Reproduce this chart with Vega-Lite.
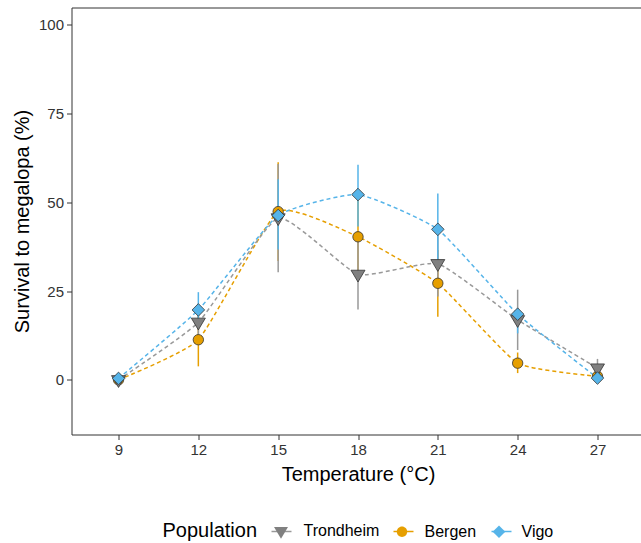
{
  "$schema": "https://vega.github.io/schema/vega-lite/v6.json",
  "width": 573,
  "height": 427,
  "autosize": "none",
  "padding": {"left": 71.5, "top": 7.5, "right": 0, "bottom": 108.5},
  "background": "white",
  "config": {
    "view": {"stroke": "#333333", "strokeWidth": 1},
    "axis": {
      "domain": false, "grid": false,
      "tickColor": "#333333", "tickSize": 5, "tickWidth": 1,
      "labelFont": "Liberation Sans", "labelFontSize": 15, "labelColor": "#333333",
      "titleFont": "Liberation Sans", "titleFontSize": 20, "titleFontWeight": "normal", "titleColor": "#000000"
    },
    "legend": {
      "titleFont": "Liberation Sans", "titleFontSize": 20, "titleFontWeight": "normal", "titleColor": "#000000",
      "labelFont": "Liberation Sans", "labelFontSize": 16, "labelColor": "#000000"
    }
  },
  "data": {
    "values": [
      {"Population": "Bergen", "Temp": 9, "Survival": 0, "lo": 0, "hi": 0},
      {"Population": "Bergen", "Temp": 12, "Survival": 11.3, "lo": 3.8, "hi": 18.8},
      {"Population": "Bergen", "Temp": 15, "Survival": 47.4, "lo": 33.5, "hi": 61.3},
      {"Population": "Bergen", "Temp": 18, "Survival": 40.3, "lo": 30.0, "hi": 50.6},
      {"Population": "Bergen", "Temp": 21, "Survival": 27.2, "lo": 17.8, "hi": 36.6},
      {"Population": "Bergen", "Temp": 24, "Survival": 4.7, "lo": 1.9, "hi": 7.7},
      {"Population": "Bergen", "Temp": 27, "Survival": 1.0, "lo": 1.0, "hi": 1.0},
      {"Population": "Trondheim", "Temp": 9, "Survival": 0, "lo": 0, "hi": 0},
      {"Population": "Trondheim", "Temp": 12, "Survival": 16.2, "lo": 12.2, "hi": 20.2},
      {"Population": "Trondheim", "Temp": 15, "Survival": 45.6, "lo": 30.3, "hi": 60.8},
      {"Population": "Trondheim", "Temp": 18, "Survival": 29.7, "lo": 19.8, "hi": 39.6},
      {"Population": "Trondheim", "Temp": 21, "Survival": 32.7, "lo": 23.5, "hi": 41.9},
      {"Population": "Trondheim", "Temp": 24, "Survival": 16.9, "lo": 8.4, "hi": 25.4},
      {"Population": "Trondheim", "Temp": 27, "Survival": 3.3, "lo": 0.7, "hi": 5.9},
      {"Population": "Vigo", "Temp": 9, "Survival": 0.4, "lo": 0.4, "hi": 0.4},
      {"Population": "Vigo", "Temp": 12, "Survival": 19.7, "lo": 14.7, "hi": 24.7},
      {"Population": "Vigo", "Temp": 15, "Survival": 46.3, "lo": 36.7, "hi": 56.5},
      {"Population": "Vigo", "Temp": 18, "Survival": 52.2, "lo": 43.2, "hi": 60.6},
      {"Population": "Vigo", "Temp": 21, "Survival": 42.4, "lo": 32.4, "hi": 52.5},
      {"Population": "Vigo", "Temp": 24, "Survival": 18.5, "lo": 13.1, "hi": 19.5},
      {"Population": "Vigo", "Temp": 27, "Survival": 0.5, "lo": 0.5, "hi": 0.5}
    ]
  },
  "encoding": {
    "x": {
      "field": "Temp", "type": "quantitative",
      "scale": {"domain": [7.233, 28.767], "nice": false, "zero": false},
      "axis": {"values": [9, 12, 15, 18, 21, 24, 27], "title": "Temperature (°C)", "labelPadding": 3, "titlePadding": 7}
    },
    "y": {
      "field": "Survival", "type": "quantitative",
      "scale": {"domain": [-15.4, 104.9], "nice": false, "zero": false},
      "axis": {"values": [0, 25, 50, 75, 100], "title": "Survival to megalopa (%)", "labelPadding": 3, "titlePadding": 6}
    }
  },
  "layer": [
    {
      "mark": {"type": "rule", "strokeWidth": 1.5},
      "encoding": {
        "y": {"field": "lo", "type": "quantitative"},
        "y2": {"field": "hi"},
        "color": {
          "field": "Population", "type": "nominal", "sort": ["Trondheim", "Bergen", "Vigo"],
          "scale": {"range": ["#999999", "#E69F00", "#56B4E9"]},
          "legend": null
        }
      }
    },
    {
      "mark": {"type": "line", "strokeDash": [4, 3], "strokeWidth": 1.5, "interpolate": "cardinal", "tension": 0.55},
      "encoding": {
        "stroke": {
          "field": "Population", "type": "nominal", "sort": ["Trondheim", "Bergen", "Vigo"],
          "scale": {"range": ["#999999", "#E69F00", "#56B4E9"]},
          "legend": {
            "orient": "none", "legendX": 91, "legendY": 513, "direction": "horizontal",
            "title": "Population", "titleOrient": "left", "titleColor": "transparent", "labelColor": "transparent",
            "titlePadding": 13, "labelOffset": 12, "columnPadding": 10, "symbolSize": 400,
            "symbolStrokeWidth": 1.5, "symbolDash": [], "padding": 0, "titleBaseline": "middle"
          }
        }
      }
    },
    {
      "mark": {"type": "point", "filled": true, "size": 400, "stroke": "#333333", "strokeWidth": 0.8, "opacity": 1},
      "encoding": {
        "fill": {
          "field": "Population", "type": "nominal",
          "scale": {"domain": ["Trondheim", "Bergen", "Vigo"], "range": ["#808080", "#E69F00", "#56B4E9"]},
          "legend": {
            "orient": "none", "legendX": 91, "legendY": 513, "direction": "horizontal",
            "title": "Population", "titleOrient": "left",
            "titlePadding": 13, "labelOffset": 12, "columnPadding": 10, "symbolSize": 400,
            "symbolStrokeColor": "#333333", "symbolStrokeWidth": 0.8, "padding": 0, "titleBaseline": "middle"
          }
        },
        "shape": {
          "field": "Population", "type": "nominal",
          "scale": {"domain": ["Trondheim", "Bergen", "Vigo"], "range": [
            "M-1,0M1,0M-0.7,-0.42L0.7,-0.42L0,0.76Z",
            "M-1,0M1,0M0.52,0A0.52,0.52,0,1,1,-0.52,0A0.52,0.52,0,1,1,0.52,0Z",
            "M-1,0M1,0M0,-0.63L0.63,0L0,0.63L-0.63,0Z"
          ]},
          "legend": {
            "orient": "none", "legendX": 91, "legendY": 513, "direction": "horizontal",
            "title": "Population", "titleOrient": "left",
            "titlePadding": 13, "labelOffset": 12, "columnPadding": 10, "symbolSize": 400,
            "symbolStrokeColor": "#333333", "symbolStrokeWidth": 0.8, "padding": 0, "titleBaseline": "middle"
          }
        }
      }
    }
  ]
}
